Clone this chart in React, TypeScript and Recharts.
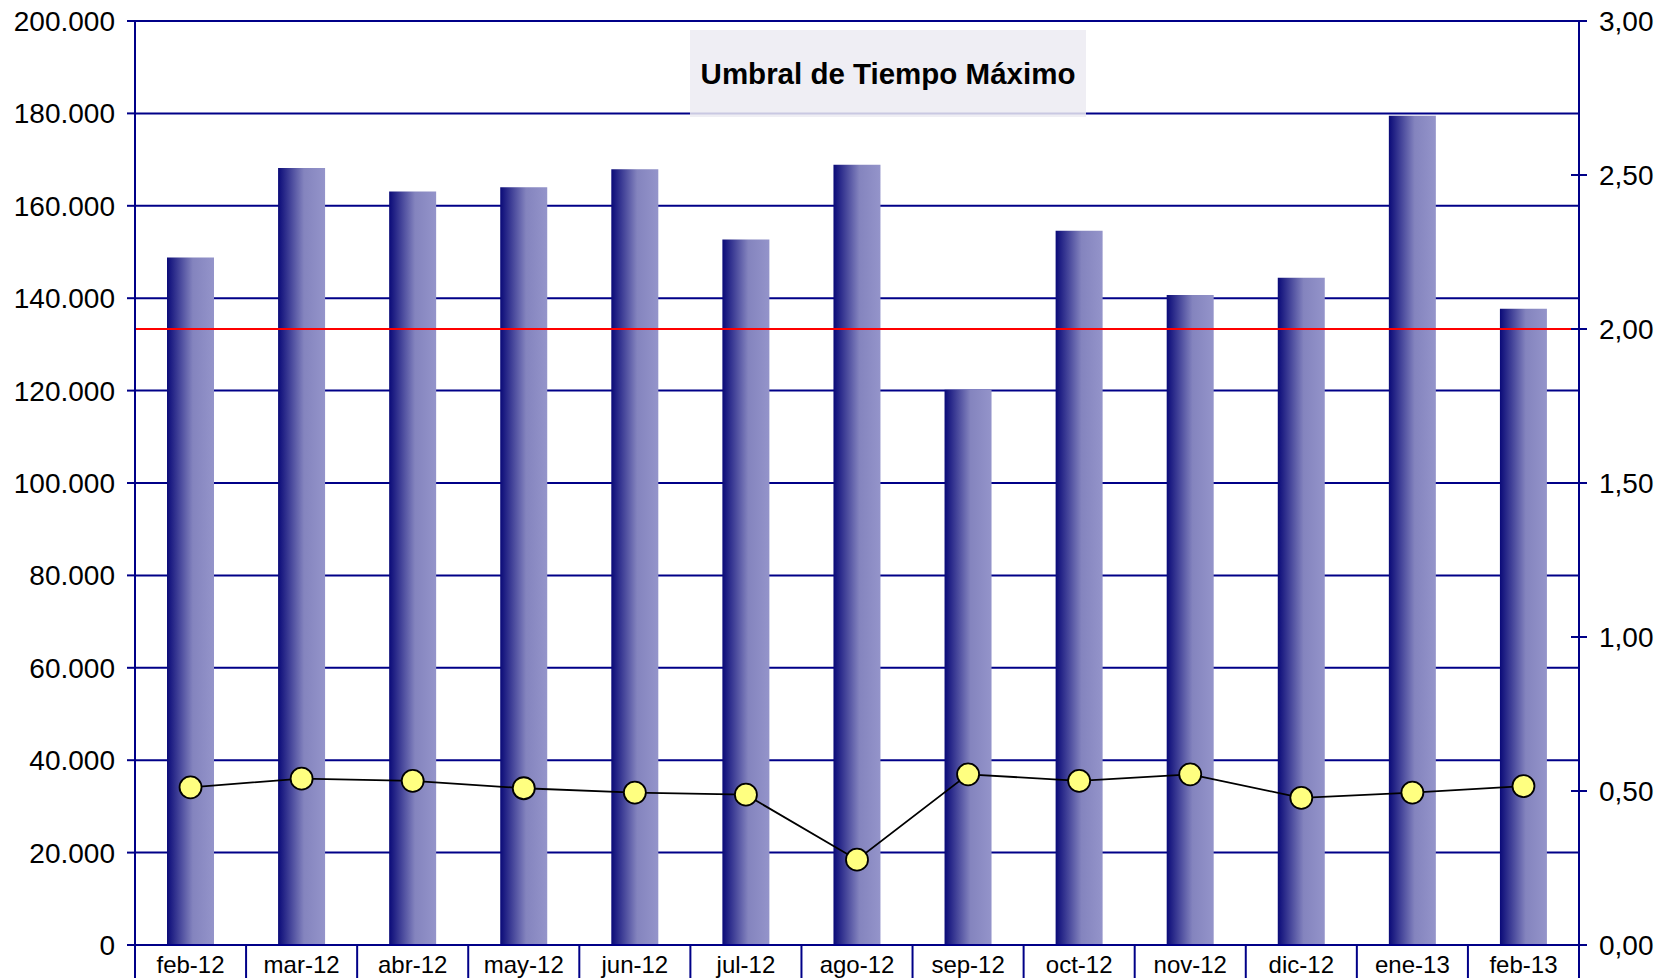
import {
  Bar,
  CartesianGrid,
  ComposedChart,
  Line,
  ReferenceLine,
  XAxis,
  YAxis,
} from 'recharts';

const months = [
  'feb-12', 'mar-12', 'abr-12', 'may-12', 'jun-12', 'jul-12', 'ago-12',
  'sep-12', 'oct-12', 'nov-12', 'dic-12', 'ene-13', 'feb-13',
];
const tiempos = [
  148800, 168200, 163100, 164000, 167900, 152700, 168900,
  120200, 154600, 140700, 144400, 179500, 137700,
];
const umbral = [
  0.512, 0.540, 0.533, 0.509, 0.495, 0.488, 0.277,
  0.554, 0.533, 0.554, 0.478, 0.495, 0.516,
];
const umbralMaximo = 2;
const leftTicks = [0, 20000, 40000, 60000, 80000, 100000, 120000, 140000, 160000, 180000, 200000];
const rightTicks = [0, 0.5, 1, 1.5, 2, 2.5, 3];

const data = months.map((m, i) => ({ month: m, tiempo: tiempos[i], umbral: umbral[i] }));

const W = 1671;
const H = 978;
const LEFT_W = 135;
const RIGHT_W = 92;
const STEP = (W - LEFT_W - RIGHT_W) / months.length;
const NAVY = '#000088';
const FONT = 'Arial, "Liberation Sans", sans-serif';

const fmtLeft = (v: number) => v.toString().replace(/\B(?=(\d{3})+(?!\d))/g, '.');
const fmtRight = (v: number) => v.toFixed(2).replace('.', ',');

function MonthTick({ x, y, payload, index }: any) {
  const last = index === months.length - 1;
  return (
    <g>
      <line x1={x - STEP / 2} x2={x - STEP / 2} y1={y} y2={y + 40} stroke={NAVY} strokeWidth={2} />
      {last && <line x1={x + STEP / 2} x2={x + STEP / 2} y1={y} y2={y + 40} stroke={NAVY} strokeWidth={2} />}
      <text x={x} y={y + 28} textAnchor="middle" fontSize={24} fontFamily={FONT} fill="#000">
        {payload.value}
      </text>
    </g>
  );
}

function RightTick({ x, y, payload }: any) {
  return (
    <g>
      <line x1={x - 8} x2={x + 8} y1={y} y2={y} stroke={NAVY} strokeWidth={2} />
      <text x={x + 20} y={y} dy="0.35em" textAnchor="start" fontSize={28} fontFamily={FONT} fill="#000">
        {fmtRight(payload.value)}
      </text>
    </g>
  );
}

function Dot({ cx, cy, index }: any) {
  return <circle key={`dot-${index}`} cx={cx} cy={cy} r={11} fill="#FFFF80" stroke="#000" strokeWidth={1.8} />;
}

export default function App() {
  return (
    <div style={{ position: 'absolute', left: 0, top: 0, width: W, height: H, background: '#fff' }}>
      <ComposedChart
        width={W}
        height={H}
        data={data}
        margin={{ top: 21, right: 0, bottom: 0, left: 0 }}
        barSize={47}
      >
        <defs>
          <linearGradient id="barFill" x1="0" y1="0" x2="1" y2="0">
            <stop offset="0%" stopColor="#0A0A78" />
            <stop offset="55%" stopColor="#8484BE" />
            <stop offset="100%" stopColor="#9494CA" />
          </linearGradient>
        </defs>
        <CartesianGrid yAxisId="left" vertical={false} stroke={NAVY} strokeWidth={2} />
        <XAxis
          dataKey="month"
          interval={0}
          height={H - 945}
          tickSize={0}
          tickMargin={0}
          tickLine={false}
          axisLine={{ stroke: NAVY, strokeWidth: 2 }}
          tick={<MonthTick />}
        />
        <YAxis
          yAxisId="left"
          width={LEFT_W}
          domain={[0, 200000]}
          ticks={leftTicks}
          tickFormatter={fmtLeft}
          tickSize={8}
          tickMargin={12}
          tickLine={{ stroke: NAVY, strokeWidth: 2 }}
          axisLine={{ stroke: NAVY, strokeWidth: 2 }}
          tick={{ fill: '#000', fontSize: 28, fontFamily: FONT }}
          interval={0}
        />
        <YAxis
          yAxisId="right"
          orientation="right"
          width={RIGHT_W}
          domain={[0, 3]}
          ticks={rightTicks}
          tickSize={0}
          tickMargin={0}
          tickLine={false}
          axisLine={{ stroke: NAVY, strokeWidth: 2 }}
          tick={<RightTick />}
          interval={0}
        />
        <Bar yAxisId="left" dataKey="tiempo" fill="url(#barFill)" isAnimationActive={false} />
        <ReferenceLine yAxisId="right" y={umbralMaximo} stroke="#FF0000" strokeWidth={2} />
        <Line
          yAxisId="right"
          type="linear"
          dataKey="umbral"
          stroke="#000"
          strokeWidth={1.8}
          dot={<Dot />}
          activeDot={false}
          isAnimationActive={false}
        />
      </ComposedChart>
      <div
        style={{
          position: 'absolute',
          left: 690,
          top: 30,
          width: 396,
          height: 87,
          background: 'rgba(236,235,242,0.85)',
          display: 'flex',
          alignItems: 'center',
          justifyContent: 'center',
          fontFamily: FONT,
          fontWeight: 'bold',
          fontSize: 29.5,
          color: '#000',
        }}
      >
        Umbral de Tiempo Máximo
      </div>
    </div>
  );
}
